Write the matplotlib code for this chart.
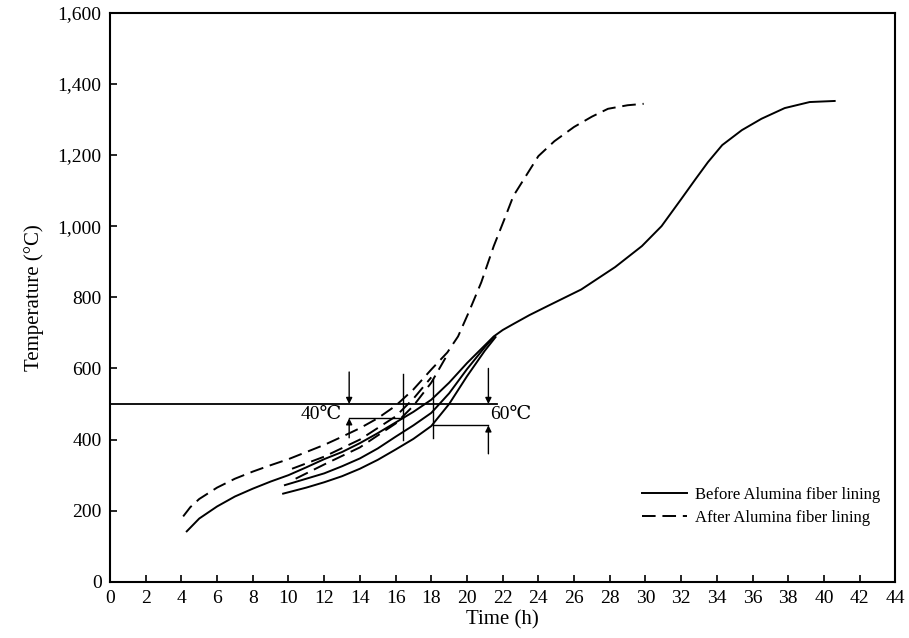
import matplotlib.pyplot as plt
from matplotlib.ticker import FuncFormatter

plt.rcParams['font.family'] = ['Liberation Serif', 'DejaVu Serif']

# before lining (solid)
s1_t = [4.3, 5, 6, 7, 8, 9, 10, 11, 12, 13, 14, 15, 16, 17, 18, 19, 20, 21, 21.5, 22,
        22.6, 23.5, 24.5, 26.4, 28.3, 29.8, 30.9, 32, 32.8, 33.5, 34.3, 35.4, 36.5, 37.8, 39.2, 40.6]
s1_T = [142, 178, 212, 240, 262, 282, 300, 322, 345, 365, 390, 418, 448, 478, 512, 560, 615, 665, 690, 708,
        725, 750, 775, 822, 885, 944, 1000, 1076, 1132, 1180, 1228, 1270, 1302, 1332, 1349, 1352]
s2_t = [9.8, 11, 12, 13, 14, 15, 16, 17, 18, 19, 20, 21, 21.5]
s2_T = [272, 290, 305, 325, 347, 375, 408, 440, 475, 530, 598, 660, 688]
s3_t = [9.7, 11, 12, 13, 14, 15, 16, 17, 18, 19, 20, 21, 21.6]
s3_T = [248, 265, 280, 297, 318, 343, 372, 402, 438, 500, 578, 650, 688]

# after lining (dashed)
d1_t = [4.1, 4.5, 5, 6, 7, 8, 9, 10, 11, 12, 13, 14, 15, 16, 17, 18, 18.9, 19.5, 20.1, 20.8, 21.5,
        22.1, 22.6, 23.3, 24, 24.9, 26, 27, 27.9, 29, 29.9]
d1_T = [184, 210, 233, 265, 290, 310, 328, 345, 365, 385, 408, 432, 460, 495, 541, 597, 645, 690, 758, 842, 944,
        1020, 1085, 1141, 1197, 1239, 1279, 1308, 1330, 1340, 1344]
d2_t = [10.2, 12, 14, 16, 17, 18]
d2_T = [318, 352, 400, 465, 515, 575]
d3_t = [10.4, 12, 14, 16, 17, 18, 18.8]
d3_T = [290, 330, 378, 445, 495, 560, 630]

xticks = list(range(0, 45, 2))
yticks = list(range(0, 1601, 200))

fig = plt.figure(figsize=(9.09, 6.38), dpi=100)
ax = fig.add_axes([0.121, 0.088, 0.864, 0.892])

lw = 1.4
dash = (0, (7, 3.5))
ax.plot(s1_t, s1_T, color='black', lw=lw, label='Before Alumina fiber lining')
ax.plot(s2_t, s2_T, color='black', lw=lw)
ax.plot(s3_t, s3_T, color='black', lw=lw)
ax.plot(d1_t, d1_T, color='black', lw=lw, ls=dash, label='After Alumina fiber lining')
ax.plot(d2_t, d2_T, color='black', lw=lw, ls=dash)
ax.plot(d3_t, d3_T, color='black', lw=lw, ls=dash)

# 500 C reference and difference marks
ax.plot([0, 21.7], [500, 500], color='black', lw=1.3)
ax.plot([13.4, 16.4], [460, 460], color='black', lw=1.0)
ax.plot([18.1, 21.2], [440, 440], color='black', lw=1.0)
ax.plot([16.4, 16.4], [400, 583], color='black', lw=1.0)
ax.plot([18.1, 18.1], [405, 569], color='black', lw=1.0)
arr = dict(arrowstyle='-|>', color='black', lw=1.0, mutation_scale=9, shrinkA=0, shrinkB=0)
ax.annotate('', xy=(13.4, 500), xytext=(13.4, 590), arrowprops=arr)
ax.annotate('', xy=(13.4, 460), xytext=(13.4, 405), arrowprops=arr)
ax.annotate('', xy=(21.2, 500), xytext=(21.2, 600), arrowprops=arr)
ax.annotate('', xy=(21.2, 440), xytext=(21.2, 360), arrowprops=arr)
ax.text(13.0, 470, '40℃', ha='right', va='center', fontsize=14)
ax.text(21.3, 470, '60℃', ha='left', va='center', fontsize=14)

ax.set_xlim(0, 44)
ax.set_ylim(0, 1600)
ax.set_xticks(xticks)
ax.set_yticks(yticks)
ax.yaxis.set_major_formatter(FuncFormatter(lambda v, p: f'{int(v):,}'))
ax.tick_params(direction='in', length=5, width=1.2, labelsize=14, pad=6)
for s in ax.spines.values():
    s.set_linewidth(1.5)

ax.set_xlabel('Time (h)', fontsize=15, labelpad=2)
ax.set_ylabel('Temperature (°C)', fontsize=15, labelpad=10)

ax.legend(loc='lower right', bbox_to_anchor=(1.0, 0.072), frameon=False, fontsize=12,
          handlelength=2.7, handletextpad=0.5, labelspacing=0.4)

fig.savefig('out.png', dpi=100)
